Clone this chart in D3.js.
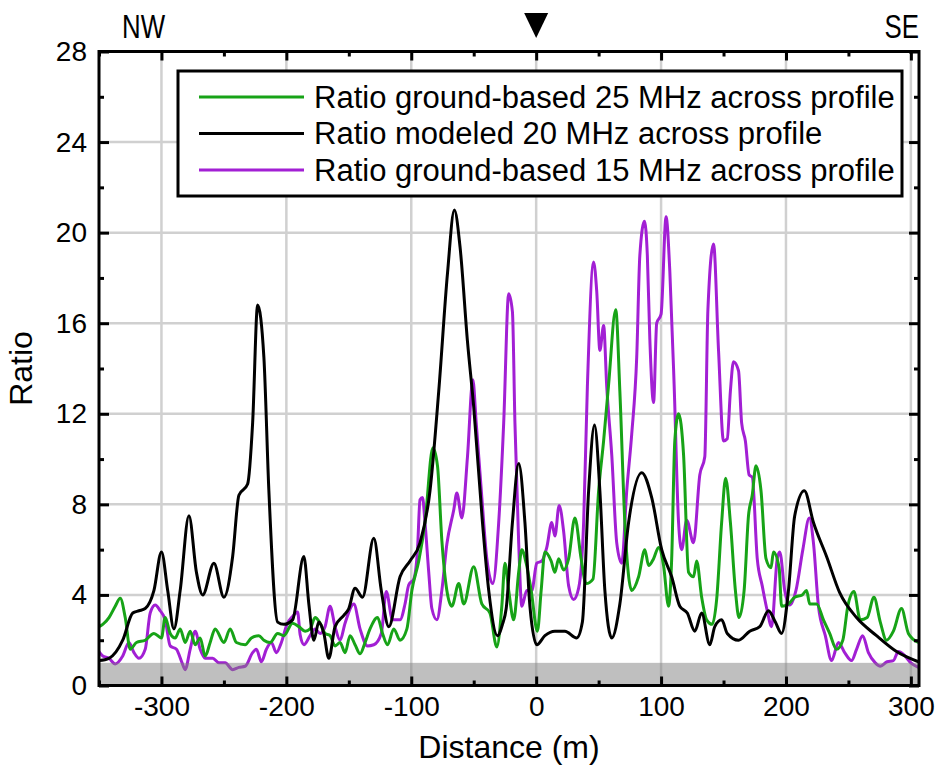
<!DOCTYPE html>
<html>
<head>
<meta charset="utf-8">
<script src="https://cdn.jsdelivr.net/npm/d3@7"></script>
<style>
  body { margin: 0; background: #fff; }
  text { font-family: "Liberation Sans", Arial, Helvetica, sans-serif; fill: #000; }
</style>
</head>
<body>
<div id="chart"></div>
<script>
// ---- data ----
const seriesNames = [
    'Ratio ground-based 25 MHz across profile',
    'Ratio modeled 20 MHz across profile',
    'Ratio ground-based 15 MHz across profile'
];
const seriesColors = ['#17a317', '#000000', '#a21fd4'];

// ground-based 25 MHz (green)
const dist25 = [-350, -347, -342, -337, -333, -329, -325, -320, -313, -306, -300, -297, -293, -289, -285, -281, -277, -273, -269, -265,
    -261, -257, -250, -245, -240, -233, -228, -222, -218, -213, -207, -202, -195, -190, -185, -181, -177, -173, -169, -165,
    -161, -157, -153, -149, -145, -141, -137, -133, -127, -123, -119, -114, -109, -103.5, -99.5, -94, -89, -82.7, -79, -75.5,
    -71.5, -67.5, -62, -58, -50, -43.5, -37, -31.5, -27.5, -25, -22, -18, -14, -11.5, -8, -4, 1, 4, 7, 12,
    15, 18, 22, 26, 31, 36, 40, 45.5, 50, 54, 58, 63.7, 67, 71, 76.5, 82, 87, 90, 94, 98,
    102, 106, 108.5, 111, 114, 118, 122, 126, 128.5, 132.5, 136.5, 141, 144.5, 148.5, 151.7, 155.5, 159.5, 162.4, 166.5, 170,
    173, 176, 180, 184, 188, 190, 194.5, 196.5, 202, 207, 213, 216.5, 219, 224.5, 230, 235, 240.5, 245.5, 249.5, 254.4,
    259.5, 265, 270.4, 275.5, 280.5, 286, 292.5, 298, 306];
const ratio25 = [2.6, 2.7, 3.0, 3.5, 3.85, 3.0, 1.6, 1.9, 2.0, 2.3, 2.1, 3.0, 2.3, 2.1, 2.5, 1.9, 2.4, 1.8, 2.1, 1.3,
    1.9, 2.5, 1.9, 2.5, 1.9, 1.8, 2.1, 2.2, 2.0, 1.9, 2.3, 2.2, 2.75, 2.6, 2.4, 2.5, 3.0, 2.75, 2.3, 2.2,
    1.75, 1.9, 1.45, 2.2, 1.8, 1.4, 1.9, 2.5, 3.0, 2.3, 1.8, 2.5, 2.0, 2.5, 4.2, 5.5, 7.2, 10.5, 9.7, 6.4,
    4.2, 3.5, 4.5, 3.6, 5.25, 3.6, 3.2, 1.7, 3.5, 5.4, 4.2, 2.9, 5.0, 6.0, 5.4, 4.2, 2.4, 4.2, 5.9, 5.5,
    5.0, 5.6, 5.1, 5.6, 7.4, 5.6, 4.5, 4.7, 8.6, 10.8, 13.3, 16.6, 13.0, 7.2, 4.2, 4.8, 6.0, 5.3, 5.6, 6.1,
    5.3, 3.5, 5.6, 10.8, 12.0, 10.2, 5.0, 4.8, 5.5, 3.9, 2.9, 2.7, 3.8, 7.2, 9.15, 7.2, 4.2, 3.0, 4.2, 7.5,
    8.4, 9.7, 8.6, 5.6, 5.2, 5.9, 5.2, 3.5, 3.6, 3.9, 4.0, 4.2, 3.6, 3.6, 2.9, 2.3, 1.6, 2.0, 3.5, 4.15,
    2.9, 3.0, 3.9, 2.8, 2.0, 2.4, 3.4, 2.3, 1.9];

// modeled 20 MHz (black)
const dist20 = [-350, -342, -331, -323, -318, -313, -306, -300, -295, -290, -285, -278, -272, -267, -258, -250, -243, -238, -231, -227,
    -223, -218, -214, -207, -202, -195, -186, -182, -178, -174, -170, -166, -161, -154, -150, -145, -139, -130, -124, -118,
    -109, -101, -93, -85, -78, -71, -65.5, -61, -55, -50, -43, -38, -31, -27, -24, -19, -14, -9, -5, 0.5,
    7, 15, 23, 32.5, 37, 42, 46.7, 51, 55, 60.5, 67, 74, 84.5, 92.5, 100.5, 108.5, 115, 121, 127, 132.5,
    139, 143, 148.5, 153, 162, 171, 179, 186, 191.5, 196.5, 202, 207, 214.7, 222, 232.5, 243, 256.5, 272.5, 288.5, 306];
const ratio20 = [1.1, 1.2, 2.0, 3.2, 3.3, 3.4, 4.2, 5.9, 4.2, 2.5, 4.2, 7.5, 5.0, 4.0, 5.4, 3.9, 5.7, 8.4, 8.9, 11.6,
    16.8, 14.5, 8.6, 2.8, 2.7, 2.9, 5.7, 3.6, 2.0, 2.8, 2.3, 1.2, 2.6, 3.1, 3.4, 4.3, 3.9, 6.5, 4.2, 2.6,
    4.8, 5.5, 6.3, 8.6, 13.0, 18.2, 21.0, 19.4, 15.2, 12.3, 7.2, 4.2, 2.2, 2.7, 3.4, 7.2, 9.8, 7.2, 3.5, 1.8,
    2.2, 2.4, 2.4, 2.1, 2.8, 8.6, 11.5, 8.6, 4.2, 2.1, 3.6, 7.2, 9.4, 8.3, 6.0, 4.8, 3.5, 3.2, 2.4, 3.2,
    1.8, 2.6, 2.9, 2.3, 2.0, 2.4, 2.6, 3.3, 2.8, 2.3, 4.2, 7.5, 8.6, 7.2, 5.7, 4.1, 3.0, 2.2, 1.5, 1.05];

// ground-based 15 MHz (purple)
const dist15 = [-350, -347, -342, -337, -331, -326, -322, -318, -313, -309, -305, -301, -297, -293, -288, -283.5, -281, -277, -273, -269,
    -265, -259, -254, -249, -243, -238, -233, -227, -224, -220, -216, -212, -208, -204, -199.5, -195, -191, -189, -186, -181,
    -177, -173, -169, -165, -161, -157, -153, -146, -141, -135, -130, -124, -120, -115, -109, -105, -102, -98, -95, -93,
    -91, -89, -86, -83.5, -79.5, -75.5, -71.5, -66, -63.5, -59.5, -55, -50.7, -48, -43.5, -39.5, -34.7, -30, -26, -22, -19,
    -17, -14, -11.5, -7.5, -3.5, 0.5, 4.5, 8.5, 12.5, 15, 18.4, 22, 26, 30, 34, 38, 41, 46, 48.5, 51,
    54, 56.5, 60.5, 64.5, 68.5, 72.5, 76.5, 80.5, 83, 86.7, 89, 91, 94, 96.5, 100, 104, 107, 110.5, 114, 116.5,
    120.5, 126, 131, 135, 137.5, 142, 146, 150, 153, 155.5, 158, 162, 164.5, 167.5, 170.5, 173, 177, 181, 185, 188.5,
    193, 195, 199, 203, 208, 213.5, 218.7, 222, 226, 231.5, 236.5, 242, 247, 252.5, 256.5, 261.4, 266, 271.5, 275.5, 281,
    286, 290, 294.5, 300, 306];
const ratio15 = [1.5, 1.3, 1.2, 0.95, 1.3, 1.9, 1.45, 1.2, 1.6, 3.2, 3.55, 3.3, 2.9, 1.75, 1.6, 1.0, 0.7, 1.6, 2.4, 1.6,
    1.2, 1.2, 1.0, 1.0, 0.7, 0.8, 0.85, 1.45, 1.6, 1.05, 1.6, 1.9, 1.45, 1.9, 2.7, 3.05, 3.25, 2.25, 1.8, 2.2,
    2.5, 2.3, 2.6, 3.5, 2.6, 2.0, 2.75, 3.6, 2.5, 1.75, 1.8, 2.3, 4.15, 2.9, 2.9, 3.6, 4.45, 4.7, 6.0, 8.2,
    8.3, 7.2, 5.0, 3.4, 2.9, 4.2, 6.25, 7.75, 8.5, 7.4, 10.1, 13.5, 11.6, 8.3, 5.6, 4.5, 7.2, 11.6, 17.3, 16.5,
    11.6, 6.3, 3.5, 4.2, 4.2, 5.4, 5.5, 6.1, 7.2, 6.6, 7.95, 6.8, 4.4, 3.8, 4.3, 7.2, 13.2, 18.7, 17.4, 14.8,
    15.9, 13.2, 10.2, 6.3, 5.4, 8.6, 11.1, 14.5, 19.0, 20.5, 19.0, 15.3, 12.5, 16.0, 16.4, 20.7, 18.3, 13.2, 7.2, 6.0,
    7.3, 6.3, 9.3, 10.1, 16.6, 19.5, 14.8, 10.8, 10.9, 13.0, 14.3, 13.9, 11.6, 10.8, 9.3, 9.2, 5.6, 4.4, 3.3, 2.6,
    5.6, 5.9, 4.2, 3.55, 4.2, 6.0, 7.4, 6.3, 3.5, 2.2, 1.1, 1.9, 1.45, 1.1, 1.6, 2.2, 1.45, 1.0, 0.85, 1.05,
    1.1, 1.5, 1.35, 1.0, 0.8];

// axis ticks
const xMajorTicks = [-300, -200, -100, 0, 100, 200, 300];
const xMinorTicks = [-350, -250, -150, -50, 50, 150, 250];
const yMajorTicks = [0, 4, 8, 12, 16, 20, 24, 28];
const yMinorTicks = [2, 6, 10, 14, 18, 22, 26];
const shadeLimit = 1; // grey band for ratio < 1

// ---- chart ----
const width = 936, height = 776;
const margin = { top: 51.5, right: 17, bottom: 90.5, left: 99 };
const innerW = width - margin.left - margin.right;
const innerH = height - margin.top - margin.bottom;

const svg = d3.select('#chart').append('svg')
    .attr('width', width)
    .attr('height', height)
    .style('background', '#fff');

const g = svg.append('g').attr('transform', `translate(${margin.left},${margin.top})`);

const x = d3.scaleLinear().domain([-350, 306.5]).range([0, innerW]);
const y = d3.scaleLinear().domain([0, 28]).range([innerH, 0]);

g.append('clipPath').attr('id', 'plot-clip')
    .append('rect').attr('width', innerW).attr('height', innerH);

// grid
g.append('g').selectAll('line.gx').data(xMajorTicks).enter().append('line')
    .attr('x1', d => x(d)).attr('x2', d => x(d))
    .attr('y1', 0).attr('y2', innerH)
    .attr('stroke', '#d0d0d0').attr('stroke-width', 2.5);
g.append('g').selectAll('line.gy').data(yMajorTicks.slice(1, -1)).enter().append('line')
    .attr('x1', 0).attr('x2', innerW)
    .attr('y1', d => y(d)).attr('y2', d => y(d))
    .attr('stroke', '#d0d0d0').attr('stroke-width', 2.5);

// lines
const lineGen = d3.line()
    .x(d => x(d[0]))
    .y(d => y(d[1]))
    .curve(d3.curveMonotoneX);

const allSeries = [
    d3.zip(dist25, ratio25),
    d3.zip(dist20, ratio20),
    d3.zip(dist15, ratio15)
];
// draw order: purple, green, black on top
[2, 0, 1].forEach(i => {
    g.append('path')
        .datum(allSeries[i])
        .attr('clip-path', 'url(#plot-clip)')
        .attr('fill', 'none')
        .attr('stroke', seriesColors[i])
        .attr('stroke-width', 3)
        .attr('stroke-linejoin', 'round')
        .attr('d', lineGen);
});

// translucent grey band below ratio 1
g.append('rect')
    .attr('x', 0).attr('width', innerW)
    .attr('y', y(shadeLimit)).attr('height', y(0) - y(shadeLimit))
    .attr('fill', '#808080').attr('opacity', 0.5);

// axes with inward ticks
function styleAxis(sel) {
    sel.select('.domain').remove();
    sel.selectAll('line').attr('stroke', '#000').attr('stroke-width', 3);
    sel.selectAll('text').style('font-size', '28px').attr('fill', '#000');
}

g.append('g').attr('transform', `translate(0,${innerH})`)
    .call(d3.axisBottom(x).tickValues(xMajorTicks).tickSize(-9).tickPadding(11)
        .tickFormat(d => d < 0 ? '-' + Math.abs(d) : d))
    .call(styleAxis);
g.append('g').attr('transform', `translate(0,${innerH})`)
    .call(d3.axisBottom(x).tickValues(xMinorTicks).tickSize(-5).tickFormat(''))
    .call(styleAxis);
g.append('g')
    .call(d3.axisTop(x).tickValues(xMajorTicks).tickSize(-9).tickFormat(''))
    .call(styleAxis);
g.append('g')
    .call(d3.axisTop(x).tickValues(xMinorTicks).tickSize(-5).tickFormat(''))
    .call(styleAxis);

g.append('g')
    .call(d3.axisLeft(y).tickValues(yMajorTicks).tickSize(-10).tickPadding(12))
    .call(styleAxis);
g.append('g')
    .call(d3.axisLeft(y).tickValues(yMinorTicks).tickSize(-5).tickFormat(''))
    .call(styleAxis);
g.append('g').attr('transform', `translate(${innerW},0)`)
    .call(d3.axisRight(y).tickValues(yMajorTicks).tickSize(-10).tickFormat(''))
    .call(styleAxis);
g.append('g').attr('transform', `translate(${innerW},0)`)
    .call(d3.axisRight(y).tickValues(yMinorTicks).tickSize(-5).tickFormat(''))
    .call(styleAxis);

// frame
g.append('rect')
    .attr('width', innerW).attr('height', innerH)
    .attr('fill', 'none').attr('stroke', '#000').attr('stroke-width', 3);

// axis titles
g.append('text')
    .attr('x', innerW / 2).attr('y', innerH + 72)
    .attr('text-anchor', 'middle')
    .style('font-size', '32px')
    .text('Distance (m)');
g.append('text')
    .attr('transform', `translate(${-67},${innerH / 2}) rotate(-90)`)
    .attr('text-anchor', 'middle')
    .style('font-size', '32px')
    .text('Ratio');

// profile direction labels (narrow lettering) and centre marker
svg.append('text').attr('transform', 'translate(122,38) scale(0.76,1)')
    .style('font-size', '34px').text('NW');
svg.append('text').attr('transform', 'translate(919,38) scale(0.76,1)')
    .attr('text-anchor', 'end').style('font-size', '34px').text('SE');
const cx = margin.left + x(0);
svg.append('path')
    .attr('d', `M${cx - 12},13 L${cx + 12},13 L${cx},38 Z`)
    .attr('fill', '#000');

// legend
const legend = svg.append('g').attr('transform', 'translate(178,71)');
legend.append('rect')
    .attr('width', 724).attr('height', 125)
    .attr('fill', '#fff').attr('stroke', '#000').attr('stroke-width', 3);
seriesNames.forEach((name, i) => {
    const row = legend.append('g').attr('transform', `translate(0,${26 + i * 36.5})`);
    row.append('line')
        .attr('x1', 21).attr('x2', 126)
        .attr('stroke', seriesColors[i]).attr('stroke-width', 3);
    row.append('text')
        .attr('x', 136).attr('dy', '0.35em')
        .style('font-size', '31px')
        .text(name);
});
</script>
</body>
</html>
